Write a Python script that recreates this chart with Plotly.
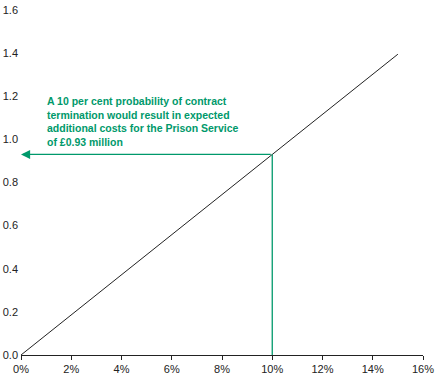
import plotly.graph_objects as go

# Data
prob = [0.0, 0.15]            # probability of contract termination
cost = [0.0, 1.395]           # expected additional cost (£m)
marker_prob = 0.10
marker_cost = 0.93
x_ticks = [0, 0.02, 0.04, 0.06, 0.08, 0.10, 0.12, 0.14, 0.16]
x_labels = ["0%", "2%", "4%", "6%", "8%", "10%", "12%", "14%", "16%"]
y_ticks = [0.0, 0.2, 0.4, 0.6, 0.8, 1.0, 1.2, 1.4, 1.6]
y_labels = ["0.0", "0.2", "0.4", "0.6", "0.8", "1.0", "1.2", "1.4", "1.6"]
note = ("A 10 per cent probability of contract<br>termination would result in expected"
        "<br>additional costs for the Prison Service<br>of £0.93 million")

green = "#00996b"

fig = go.Figure()
fig.add_trace(go.Scatter(x=prob, y=cost, mode="lines",
                         line=dict(color="#222222", width=1), hoverinfo="skip"))
fig.add_trace(go.Scatter(x=[marker_prob, marker_prob], y=[0, marker_cost], mode="lines",
                         line=dict(color=green, width=1.3), hoverinfo="skip"))

fig.add_annotation(x=0, y=marker_cost, ax=marker_prob, ay=marker_cost,
                   xref="x", yref="y", axref="x", ayref="y",
                   showarrow=True, arrowhead=2, arrowsize=1.4, arrowwidth=1.3,
                   arrowcolor=green, text="")
fig.add_annotation(x=0.0095, y=1.215, xref="x", yref="y", xanchor="left", yanchor="top",
                   align="left", showarrow=False, text="<b>" + note + "</b>",
                   font=dict(family="Liberation Sans, Arial", size=10.5, color=green))

fig.update_layout(
    width=436, height=375,
    margin=dict(l=21, r=13, t=10, b=20),
    plot_bgcolor="white", paper_bgcolor="white",
    showlegend=False,
    font=dict(family="Liberation Sans, Arial", size=11, color="#222222"),
    xaxis=dict(range=[0, 0.16], tickvals=x_ticks, ticktext=x_labels,
               showgrid=False, zeroline=False, showline=True, linecolor="#222222",
               linewidth=1.3, ticks="outside", ticklen=4, tickcolor="#222222",
               tickwidth=1, automargin=False),
    yaxis=dict(range=[0, 1.6], tickvals=y_ticks, ticktext=y_labels,
               showgrid=False, zeroline=False, showline=False, ticks="",
               ticklabelstandoff=2, automargin=False),
)

fig.write_html("out.html", config={"displayModeBar": False},
               post_script="document.body.style.margin='0';document.body.style.overflow='hidden';")
